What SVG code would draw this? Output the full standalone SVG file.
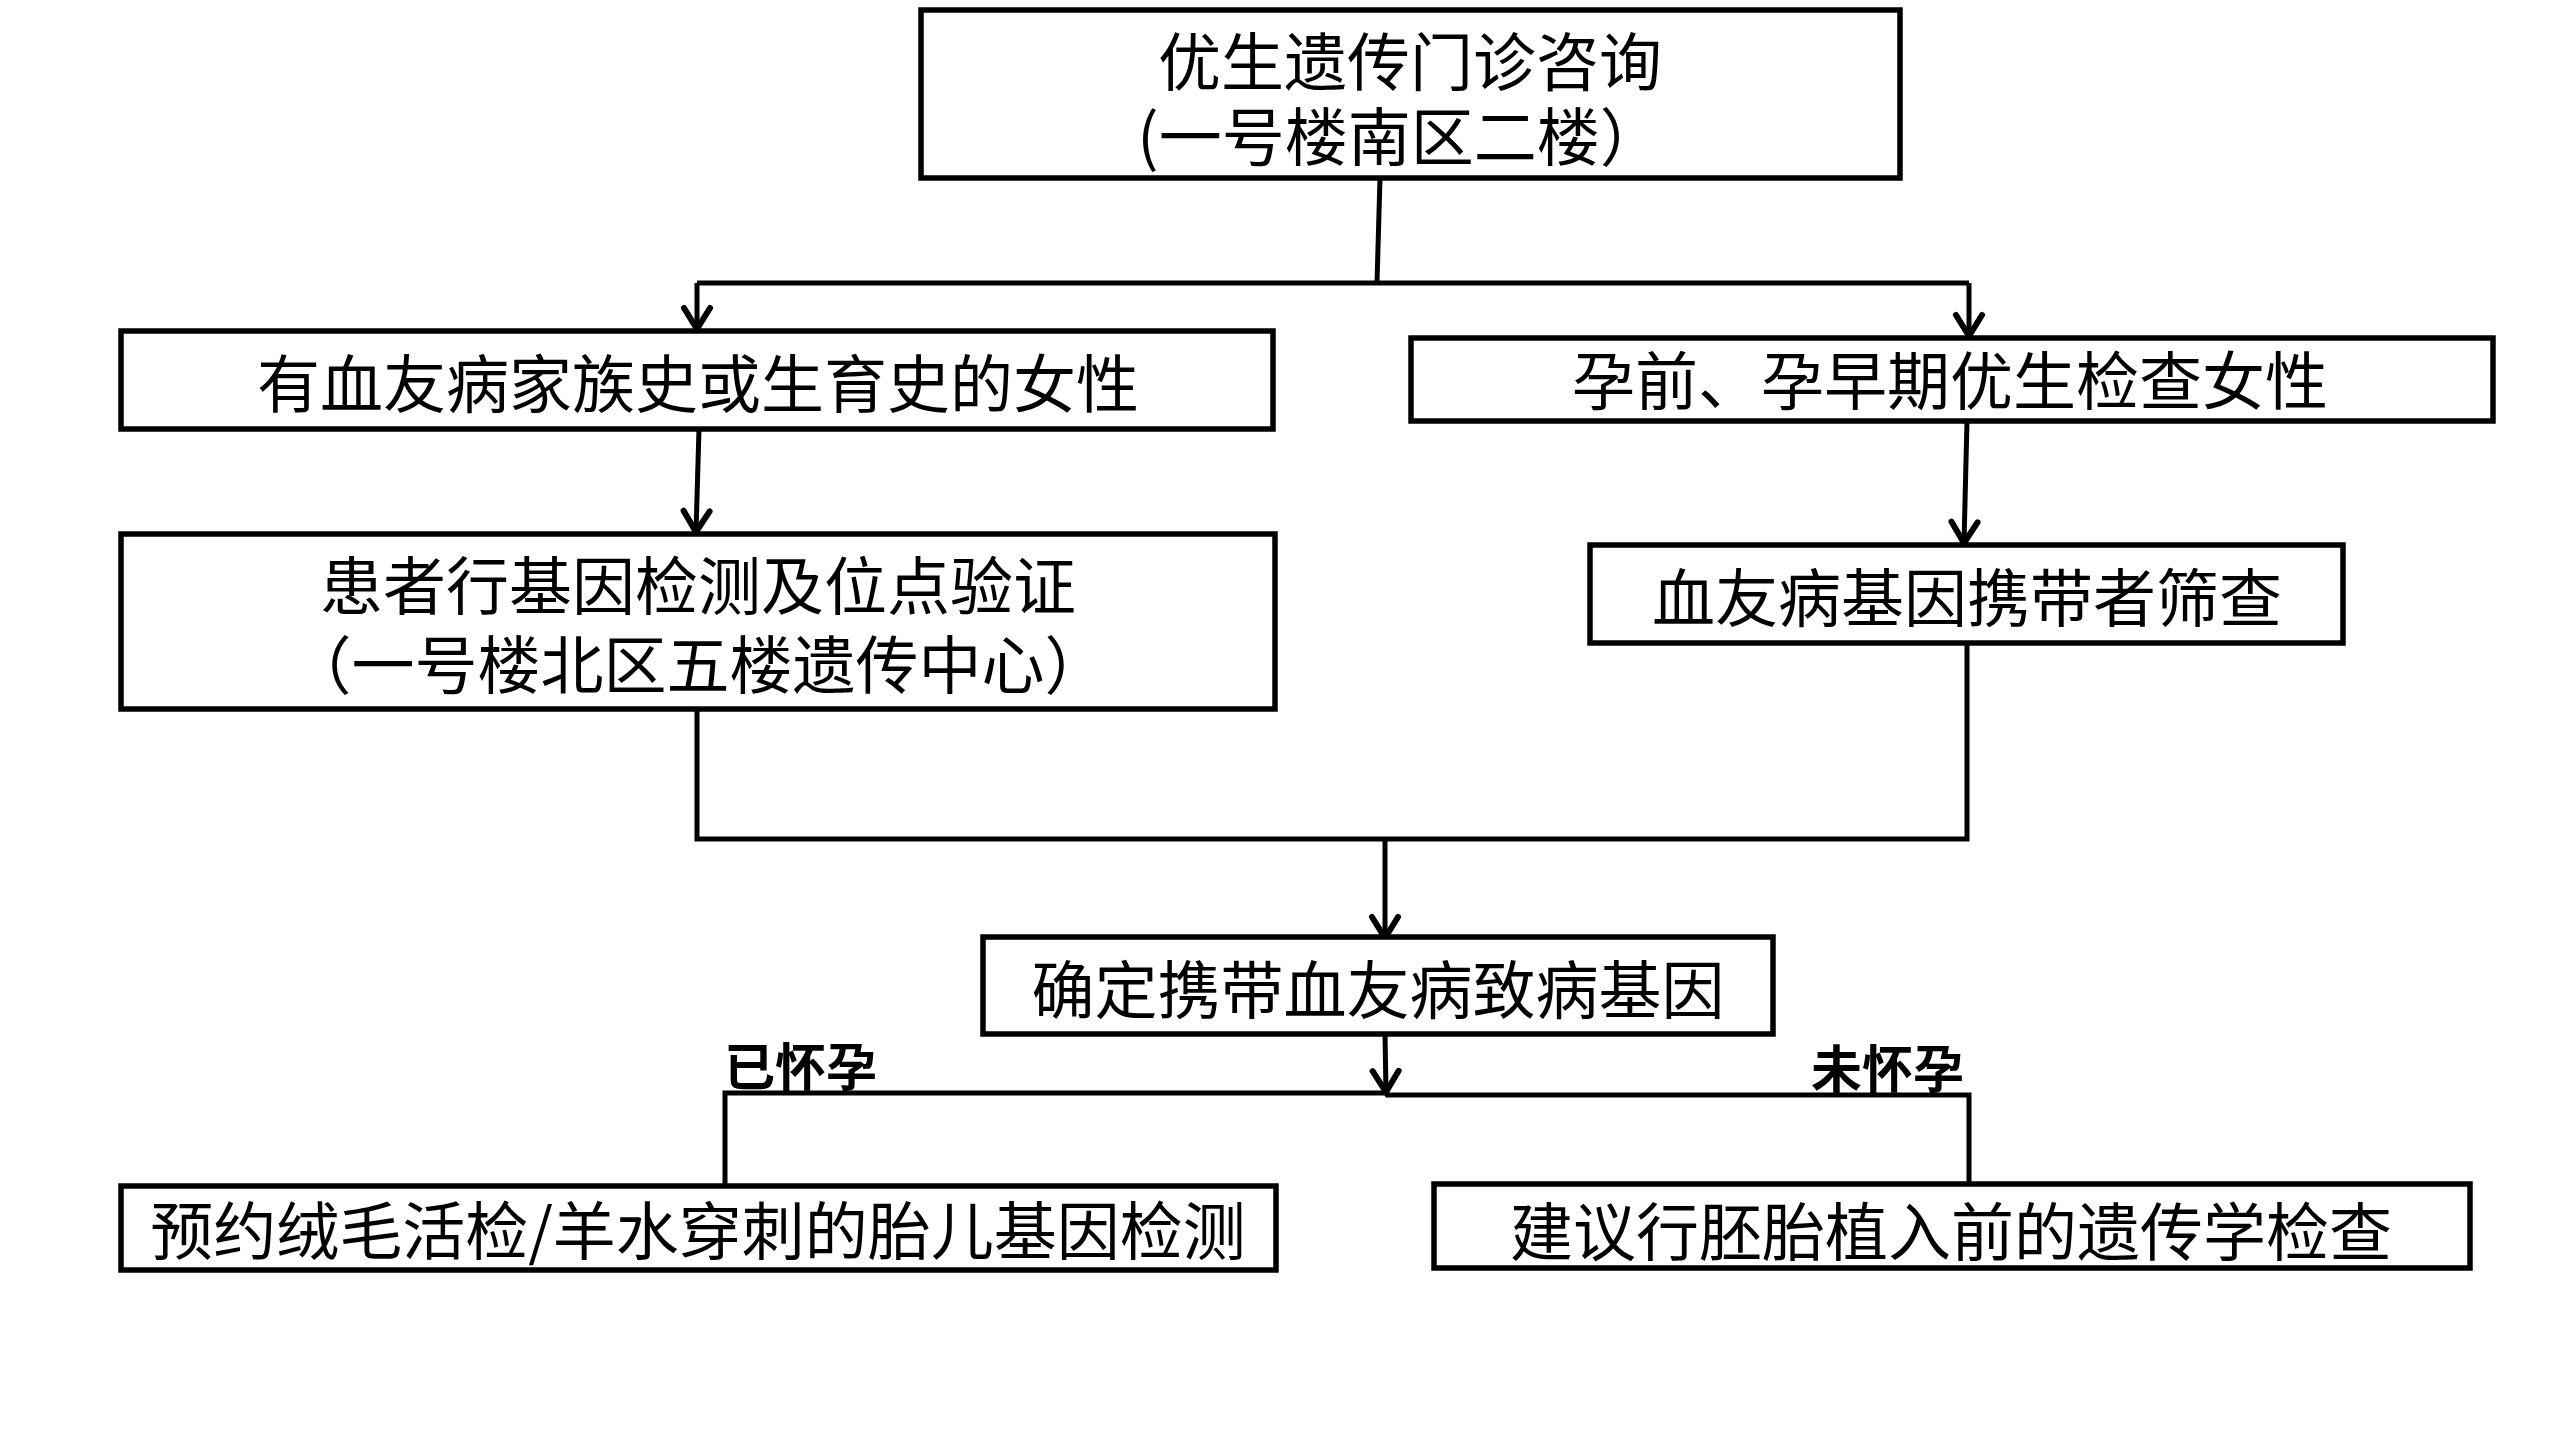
<svg xmlns="http://www.w3.org/2000/svg" width="2560" height="1440" viewBox="0 0 2560 1440">
<style>
.box{fill:#fff;stroke:#000;stroke-width:5.5}
.t{font-family:"Noto Sans CJK SC","Noto Sans CJK JP",sans-serif;font-size:63px;fill:#000;text-anchor:middle;dominant-baseline:central}
.lb{font-family:"Noto Sans CJK SC","Noto Sans CJK JP",sans-serif;font-size:51px;font-weight:bold;fill:#000;dominant-baseline:central}
.c{fill:none;stroke:#000;stroke-width:5}
</style>
<defs>
<marker id="arr" markerUnits="userSpaceOnUse" markerWidth="34" markerHeight="36" viewBox="-28 -18 34 36" refX="0" refY="0" orient="auto" overflow="visible">
<path d="M-21,-13 L0,0 L-21,13" fill="none" stroke="#000" stroke-width="6" stroke-linecap="round" stroke-linejoin="miter"/>
</marker>
</defs>
<rect width="2560" height="1440" fill="#fff"/>
<g id="connectors">
<path class="c" d="M1380,178 L1377,283"/>
<path class="c" d="M697,283 H1969"/>
<path class="c" d="M697,283 V329" marker-end="url(#arr)"/>
<path class="c" d="M1969,283 V336" marker-end="url(#arr)"/>
<path class="c" d="M699,429 L696,532" marker-end="url(#arr)"/>
<path class="c" d="M1967,421 L1964,543" marker-end="url(#arr)"/>
<path class="c" d="M697,709 V839 H1967 V643"/>
<path class="c" d="M1385,839 V938" marker-end="url(#arr)"/>
<path class="c" d="M1385,1034 L1386,1092" marker-end="url(#arr)"/>
<path class="c" d="M725,1184 V1093 H1386"/>
<path class="c" d="M1386,1095 H1969 V1184"/>
</g>
<g id="n1">
<rect class="box" x="921" y="10" width="979" height="168"/>
<text class="t"><tspan x="1410" y="57">优生遗传门诊咨询</tspan><tspan x="1400" y="132">(一号楼南区二楼）</tspan></text>
</g>
<g id="n2">
<rect class="box" x="121" y="331" width="1152" height="98"/>
<text class="t" x="698" y="379">有血友病家族史或生育史的女性</text>
</g>
<g id="n3">
<rect class="box" x="1411" y="338" width="1082" height="83"/>
<text class="t" x="1950" y="376">孕前、孕早期优生检查女性</text>
</g>
<g id="n4">
<rect class="box" x="121" y="534" width="1154" height="175"/>
<text class="t"><tspan x="698" y="581">患者行基因检测及位点验证</tspan><tspan x="698" y="660">（一号楼北区五楼遗传中心）</tspan></text>
</g>
<g id="n5">
<rect class="box" x="1590" y="545" width="753" height="98"/>
<text class="t" x="1967" y="593">血友病基因携带者筛查</text>
</g>
<g id="n6">
<rect class="box" x="983" y="937" width="790" height="97"/>
<text class="t" x="1378" y="985">确定携带血友病致病基因</text>
</g>
<g id="labels">
<text class="lb" x="724" y="1064">已怀孕</text>
<text class="lb" x="1964" y="1066" text-anchor="end">未怀孕</text>
</g>
<g id="n7">
<rect class="box" x="121" y="1186" width="1155" height="84"/>
<text class="t" x="698" y="1226">预约绒毛活检/羊水穿刺的胎儿基因检测</text>
</g>
<g id="n8">
<rect class="box" x="1434" y="1184" width="1036" height="84"/>
<text class="t" x="1951" y="1227">建议行胚胎植入前的遗传学检查</text>
</g>
</svg>
